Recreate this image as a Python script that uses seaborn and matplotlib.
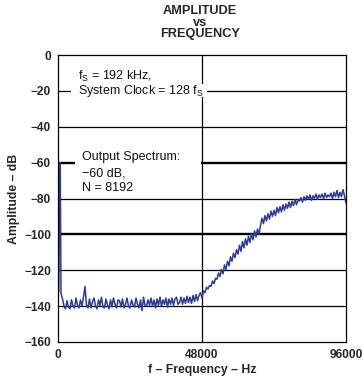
import numpy as np
import pandas as pd
import matplotlib
matplotlib.use("Agg")
import matplotlib.pyplot as plt
from matplotlib.patches import Rectangle
import seaborn as sns

# ---- data ----
freq_low = [0, 250, 600, 750, 1000]
amp_low = [-77, -132, -60, -60.5, -133]

amp_1500_10000 = [-136, -140, -141.5, -137, -140.5, -141.5, -136.5, -140, -141, -135.5,
                  -139.5, -141, -136.5, -140, -135, -129, -139.5, -141]
amp_10500_20000 = [-136, -141, -137.5, -135.5, -140, -141.5, -136.5, -139.5, -135, -140.5,
                   -141, -136, -139.5, -141.5, -136.5, -140, -135.5, -139, -141, -136.5]
amp_20500_30000 = [-137, -140.5, -136, -141, -139, -135.5, -140, -141, -136.5, -139.5,
                   -140.5, -135.5, -139, -141, -136.5, -142.5, -135, -139.5, -140, -136.5]
amp_30500_40000 = [-139.5, -135.5, -140, -136.5, -141, -136, -139.5, -135, -140, -136.5,
                   -139, -135.5, -140.5, -136, -139, -135.5, -139.5, -136, -135, -139]
amp_40500_50000 = [-138, -135, -139, -135.5, -138.5, -134.5, -138, -135, -138.5, -134,
                   -137.5, -133.5, -137, -134, -132.5, -135.5, -131.5, -132.5, -129.5, -130.5]
amp_50500_60000 = [-128.5, -129, -126, -127.5, -124.5, -125, -121.5, -123.5, -119.5, -122,
                   -117, -119.5, -115, -117.5, -112.5, -115, -110.5, -113, -108.5, -111]
amp_60500_70000 = [-106, -109.5, -104, -107.5, -102.5, -106, -101, -104.5, -99.5, -103,
                   -98, -101.5, -97, -100, -95, -91, -94, -89.5, -92.5, -88.5]
amp_70500_80000 = [-91.5, -87, -90, -86.5, -89.5, -85, -88, -84.5, -87.5, -83.5,
                   -86.5, -83, -85.5, -82, -85, -81.5, -84, -80.5, -83.5, -80.5]
amp_80500_90000 = [-81.5, -79.5, -82, -79, -81, -78.5, -80.5, -78, -81, -78.5,
                   -80, -77.5, -80.5, -78, -79.5, -77.5, -80, -77, -79.5, -78]
amp_90500_96000 = [-79, -77, -80, -76.5, -79, -75.5, -79.5, -76.5, -79, -75, -78.5, -82.5]

freq_bins = list(np.arange(1500, 96001, 500))
amp_bins = (amp_1500_10000 + amp_10500_20000 + amp_20500_30000 + amp_30500_40000 +
            amp_40500_50000 + amp_50500_60000 + amp_60500_70000 + amp_70500_80000 +
            amp_80500_90000 + amp_90500_96000)

x_ticks = [0, 48000, 96000]
x_ticklabels = ["0", "48000", "96000"]
y_ticks = [0, -20, -40, -60, -80, -100, -120, -140, -160]
y_ticklabels = ["0", "\u221220", "\u221240", "\u221260", "\u221280", "\u2212100",
                "\u2212120", "\u2212140", "\u2212160"]
title_lines = ["AMPLITUDE", "vs", "FREQUENCY"]

df = pd.DataFrame({"freq": freq_low + freq_bins, "amp": amp_low + amp_bins})

# ---- plot ----
sns.set_style("white")
plt.rcParams["font.family"] = ["Liberation Sans", "DejaVu Sans"]
plt.rcParams["mathtext.fontset"] = "custom"
plt.rcParams["mathtext.rm"] = "Liberation Sans"

W, H = 364, 379
fig = plt.figure(figsize=(W / 100, H / 100), dpi=100)
ax = fig.add_axes([58 / W, 1 - 342 / H, 288 / W, 287 / H])

ax.set_xlim(0, 96000)
ax.set_ylim(-160, 0)

# grid lines
for yv in [-20, -40, -80, -120, -140]:
    ax.axhline(yv, color="black", lw=0.9, zorder=1)
for yv in [-60, -100]:
    ax.axhline(yv, color="black", lw=1.7, zorder=1)
ax.axvline(48000, color="black", lw=0.9, zorder=1)

# white masks behind annotation text
ax.add_patch(Rectangle((4333, -23.4), 45300, 7.2, facecolor="white", edgecolor="none", zorder=2))
ax.add_patch(Rectangle((5667, -62.2), 42100, 9.0, facecolor="white", edgecolor="none", zorder=2))

sns.lineplot(data=df, x="freq", y="amp", ax=ax, color="#2e3a99", lw=1.1, zorder=3)

ax.set_xticks(x_ticks)
ax.set_xticklabels(x_ticklabels, fontsize=8.6, fontweight="bold")
ax.set_yticks(y_ticks)
ax.set_yticklabels(y_ticklabels, fontsize=8.6, fontweight="bold")
ax.tick_params(length=0, pad=5)
ax.set_xlabel("f \u2013 Frequency \u2013 Hz", fontsize=8.8, fontweight="bold")
ax.xaxis.set_label_coords(0.5, -0.076)
ax.set_ylabel("Amplitude \u2013 dB", fontsize=8.8, fontweight="bold", labelpad=3)
for s in ax.spines.values():
    s.set_color("black")
    s.set_linewidth(0.9)
    s.set_zorder(4)

for txt, base in zip(title_lines, [14, 25.5, 37.5]):
    fig.text(200 / W, 1 - base / H, txt, ha="center", va="baseline",
             fontsize=9.2, fontweight="bold")

tkw = dict(fontsize=9, ha="left", va="baseline", zorder=5, color="#111111")
ax.text(6767, -13.94, "f$_\\mathregular{S}$ = 192 kHz,", **tkw)
ax.text(6767, -21.74, "System Clock = 128 f$_\\mathregular{S}$", **tkw)
ax.text(7900, -58.5, "Output Spectrum:", **tkw)
ax.text(7900, -67.85, "\u221260 dB,", **tkw)
ax.text(7900, -75.65, "N = 8192", **tkw)

fig.savefig("out.png", dpi=100)
